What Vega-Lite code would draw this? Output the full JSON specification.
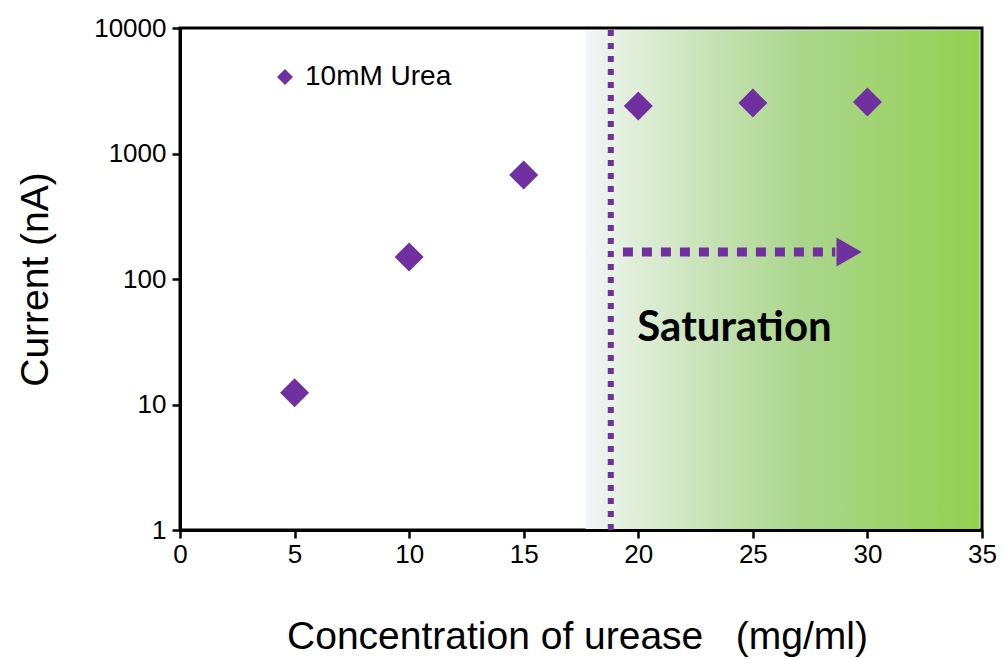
{
  "$schema": "https://vega.github.io/schema/vega-lite/v6.json",
  "width": 802,
  "height": 502,
  "autosize": {"type": "none"},
  "padding": {"left": 180, "top": 28, "right": 24, "bottom": 129},
  "background": "white",
  "config": {
    "view": {"stroke": "black", "strokeWidth": 3},
    "axis": {
      "grid": false,
      "domainColor": "black",
      "domainWidth": 3,
      "tickColor": "black",
      "tickWidth": 2.5,
      "tickSize": 8,
      "labelFont": "Liberation Sans",
      "labelFontSize": 26,
      "labelColor": "black",
      "labelFlush": false,
      "labelOverlap": false,
      "titleFont": "Liberation Sans",
      "titleFontSize": 39,
      "titleFontWeight": "normal",
      "titleColor": "black",
      "zindex": 1
    }
  },
  "datasets": {
    "region": [{"x": 17.7, "x2": 34.9, "y": 1.02, "y2": 9600}],
    "vline": [{"x": 18.8, "y": 1, "y2": 10000}],
    "arrow": [{"x": 19.33, "x2": 28.6, "y": 164}],
    "head": [{"x": 29.2, "y": 164}],
    "note": [{"label": "Saturation", "x": 24.2, "y": 40.7}],
    "points": [
      {"conc": 5, "current": 12.4, "series": "10mM Urea"},
      {"conc": 10, "current": 150, "series": "10mM Urea"},
      {"conc": 15, "current": 674, "series": "10mM Urea"},
      {"conc": 20, "current": 2390, "series": "10mM Urea"},
      {"conc": 25, "current": 2525, "series": "10mM Urea"},
      {"conc": 30, "current": 2570, "series": "10mM Urea"}
    ]
  },
  "layer": [
    {
      "data": {"name": "region"},
      "mark": {
        "type": "rect",
        "color": {
          "gradient": "linear",
          "x1": 0, "y1": 0, "x2": 1, "y2": 0,
          "stops": [
            {"offset": 0, "color": "#f3f7fb"},
            {"offset": 0.08, "color": "#e5f1e1"},
            {"offset": 0.3, "color": "#c9e3b8"},
            {"offset": 0.55, "color": "#aad68c"},
            {"offset": 1, "color": "#92d050"}
          ]
        }
      },
      "encoding": {
        "x": {"field": "x", "type": "quantitative", "scale": {"domain": [0, 35], "nice": false}},
        "x2": {"field": "x2"},
        "y": {"field": "y", "type": "quantitative", "scale": {"type": "log", "domain": [1, 10000], "nice": false}},
        "y2": {"field": "y2"}
      }
    },
    {
      "data": {"name": "vline"},
      "mark": {"type": "rule", "color": "#7030a0", "strokeWidth": 6, "strokeDash": [6, 7], "strokeCap": "butt"},
      "encoding": {
        "x": {"field": "x", "type": "quantitative"},
        "y": {"field": "y", "type": "quantitative"},
        "y2": {"field": "y2"}
      }
    },
    {
      "data": {"name": "arrow"},
      "mark": {"type": "rule", "color": "#7030a0", "strokeWidth": 9, "strokeDash": [10, 9], "strokeCap": "butt"},
      "encoding": {
        "x": {"field": "x", "type": "quantitative"},
        "x2": {"field": "x2"},
        "y": {"field": "y", "type": "quantitative"}
      }
    },
    {
      "data": {"name": "head"},
      "mark": {"type": "point", "shape": "triangle-right", "filled": true, "color": "#7030a0", "opacity": 1, "size": 850},
      "encoding": {
        "x": {"field": "x", "type": "quantitative"},
        "y": {"field": "y", "type": "quantitative"}
      }
    },
    {
      "data": {"name": "note"},
      "mark": {"type": "text", "font": "Lato", "fontWeight": "bold", "fontSize": 42, "color": "black", "align": "center", "baseline": "middle"},
      "encoding": {
        "x": {"field": "x", "type": "quantitative"},
        "y": {"field": "y", "type": "quantitative"},
        "text": {"field": "label"}
      }
    },
    {
      "data": {"name": "points"},
      "mark": {"type": "point", "shape": "diamond", "filled": true, "opacity": 1, "size": 841},
      "encoding": {
        "x": {
          "field": "conc", "type": "quantitative",
          "scale": {"domain": [0, 35], "nice": false},
          "axis": {
            "values": [0, 5, 10, 15, 20, 25, 30, 35],
            "title": "Concentration of urease\u00a0\u00a0\u00a0(mg/ml)",
            "labelPadding": 3,
            "titleX": 397,
            "titleY": 118,
            "titleBaseline": "alphabetic"
          }
        },
        "y": {
          "field": "current", "type": "quantitative",
          "scale": {"type": "log", "domain": [1, 10000], "nice": false},
          "axis": {
            "values": [1, 10, 100, 1000, 10000],
            "format": "d",
            "title": "Current (nA)",
            "labelPadding": 6,
            "titleX": -133,
            "titleY": 251,
            "titleAngle": -90,
            "titleAlign": "center",
            "titleBaseline": "alphabetic"
          }
        },
        "color": {
          "field": "series", "type": "nominal",
          "scale": {"range": ["#7030a0"]},
          "legend": {
            "title": null,
            "orient": "none",
            "legendX": 91,
            "legendY": 35,
            "padding": 0,
            "symbolType": "diamond",
            "symbolSize": 256,
            "symbolFillColor": "#7030a0",
            "symbolStrokeWidth": 0,
            "symbolOpacity": 1,
            "labelFont": "Liberation Sans",
            "labelFontSize": 28,
            "labelColor": "black",
            "labelOffset": 6
          }
        }
      }
    }
  ]
}
